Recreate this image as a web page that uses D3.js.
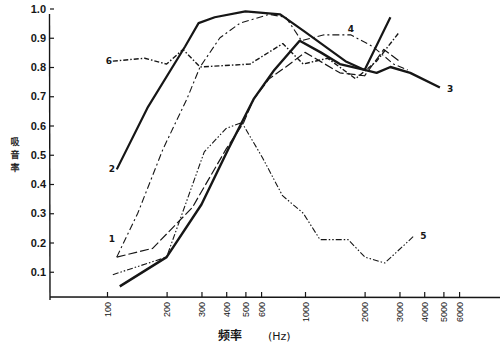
<!DOCTYPE html>
<html>
<head>
<meta charset="utf-8">
<script src="https://cdn.jsdelivr.net/npm/d3@7"></script>
<style>
  body { margin: 0; background: #fff; }
  svg { display: block; font-family: "DejaVu Sans", sans-serif; }
</style>
</head>
<body>
<svg id="chart"></svg>
<script>
// frequency ticks (Hz) and absorption ticks
var freqTicks = [100, 200, 300, 400, 500, 600, 1000, 2000, 3000, 4000, 5000, 6000];
var coefTicks = [0.1, 0.2, 0.3, 0.4, 0.5, 0.6, 0.7, 0.8, 0.9, 1.0];

// curves, [frequency, coefficient]
var curve1 = [[112, 0.15], [170, 0.18], [270, 0.32], [400, 0.52], [490, 0.61], [550, 0.69], [660, 0.76], [800, 0.80], [1000, 0.85], [1500, 0.78], [2000, 0.77], [2500, 0.86], [3000, 0.82]];
var curve2 = [[112, 0.45], [160, 0.66], [248, 0.87], [290, 0.95], [350, 0.97], [500, 0.99], [750, 0.98], [1000, 0.92], [1600, 0.82], [2000, 0.79], [2700, 0.97]];
var curve3 = [[116, 0.05], [200, 0.15], [300, 0.33], [410, 0.52], [550, 0.69], [700, 0.79], [940, 0.89], [1200, 0.85], [1500, 0.81], [2000, 0.79], [2300, 0.78], [2700, 0.80], [3400, 0.78], [4800, 0.73]];
var curve4 = [[112, 0.15], [143, 0.30], [192, 0.52], [253, 0.69], [295, 0.80], [372, 0.90], [470, 0.95], [660, 0.98], [800, 0.97], [960, 0.89], [1250, 0.91], [1700, 0.91], [2200, 0.87], [2800, 0.81], [3300, 0.79]];
var curve5 = [[107, 0.09], [200, 0.15], [310, 0.51], [400, 0.59], [480, 0.61], [610, 0.49], [770, 0.36], [980, 0.30], [1190, 0.21], [1650, 0.21], [2010, 0.15], [2530, 0.13], [3520, 0.22]];
var curve6 = [[107, 0.82], [155, 0.83], [200, 0.81], [242, 0.86], [295, 0.80], [527, 0.81], [772, 0.88], [980, 0.81], [1300, 0.83], [1800, 0.76], [2300, 0.82], [3000, 0.92]];

var curveNames = ["1", "2", "3", "4", "5", "6"];

function drawChart() {
  var width = 500;
  var height = 343;

  var svg = d3.select("#chart")
    .attr("width", width)
    .attr("height", height);

  // log frequency axis, linear coefficient axis
  var x = d3.scaleLog().domain([100, 1000]).range([107, 305]);
  var y = d3.scaleLinear().domain([0, 1]).range([301, 8.5]);

  var ink = "#161616";

  // x axis
  var xAxis = svg.append("g")
    .attr("transform", "translate(0,297)")
    .call(d3.axisBottom(x).tickValues(freqTicks).tickFormat(d3.format("d")).tickSize(-5).tickPadding(4));
  xAxis.select(".domain").remove();
  xAxis.selectAll(".tick line").attr("stroke", ink).attr("stroke-width", 1.2);
  xAxis.selectAll(".tick text")
    .attr("transform", "rotate(-90)")
    .attr("x", -5)
    .attr("y", 0)
    .attr("dy", "0.35em")
    .attr("text-anchor", "end")
    .attr("fill", ink)
    .style("font-size", "9px");
  svg.append("line")
    .attr("x1", 50).attr("x2", 500)
    .attr("y1", 297).attr("y2", 297.5)
    .attr("stroke", ink).attr("stroke-width", 1.4);

  // y axis
  var yAxis = svg.append("g")
    .attr("transform", "translate(50,0)")
    .call(d3.axisLeft(y).tickValues(coefTicks).tickFormat(d3.format(".1f")).tickSize(-4).tickPadding(4));
  yAxis.select(".domain").remove();
  yAxis.selectAll(".tick line").attr("stroke", ink).attr("stroke-width", 1.2);
  yAxis.selectAll(".tick text")
    .attr("fill", ink)
    .style("font-size", "11px")
    .style("font-weight", "bold");
  svg.append("line")
    .attr("x1", 49.5).attr("x2", 50)
    .attr("y1", 14).attr("y2", 300)
    .attr("stroke", ink).attr("stroke-width", 1.4);

  // axis titles
  svg.append("text")
    .attr("x", 218).attr("y", 340)
    .attr("fill", ink)
    .style("font-family", "'Noto Sans CJK SC'")
    .style("font-size", "12px")
    .style("font-weight", "bold")
    .text("频率");
  svg.append("text")
    .attr("x", 268).attr("y", 340)
    .attr("fill", ink)
    .style("font-size", "11px")
    .text("(Hz)");

  // vertical title, one character per line
  var yChars = ["吸", "音", "率"];
  svg.selectAll("text.ytitle")
    .data(yChars)
    .enter()
    .append("text")
    .attr("class", "ytitle")
    .attr("x", 15)
    .attr("y", function(d, i) { return 145 + i * 13; })
    .attr("text-anchor", "middle")
    .attr("fill", ink)
    .attr("stroke", ink)
    .attr("stroke-width", 0.3)
    .style("font-family", "'Noto Sans CJK SC'")
    .style("font-size", "9px")
    .text(function(d) { return d; });

  // line styles for each curve
  var curves = [curve1, curve2, curve3, curve4, curve5, curve6];
  var styles = [
    { w: 1.2, dash: "9,3" },
    { w: 2.2, dash: null },
    { w: 2.4, dash: null },
    { w: 1.1, dash: "7,3,2,3" },
    { w: 1.1, dash: "6,2,1.5,2,1.5,2" },
    { w: 1.4, dash: "5,2,1.5,2" }
  ];

  var line = d3.line()
    .x(function(d) { return x(d[0]); })
    .y(function(d) { return y(d[1]); });

  svg.selectAll("path.curve")
    .data(curves)
    .enter()
    .append("path")
    .attr("class", "curve")
    .attr("d", line)
    .attr("fill", "none")
    .attr("stroke", ink)
    .attr("stroke-width", function(d, i) { return styles[i].w; })
    .attr("stroke-dasharray", function(d, i) { return styles[i].dash; })
    .attr("stroke-linejoin", "round");

  // curve number labels, beside each curve's start or end
  var labelAt = [
    { p: curve1[0], dx: -8, dy: -15 },
    { p: curve2[0], dx: -8, dy: 3 },
    { p: curve3[curve3.length - 1], dx: 7, dy: 5 },
    { p: curve4[11], dx: -3, dy: -3 },
    { p: curve5[curve5.length - 1], dx: 7, dy: 2 },
    { p: curve6[0], dx: -7, dy: 3 }
  ];
  svg.selectAll("text.curve-label")
    .data(labelAt)
    .enter()
    .append("text")
    .attr("class", "curve-label")
    .attr("x", function(d) { return x(d.p[0]) + d.dx; })
    .attr("y", function(d) { return y(d.p[1]) + d.dy; })
    .attr("fill", ink)
    .style("font-size", "9px")
    .style("font-weight", "bold")
    .text(function(d, i) { return curveNames[i]; });
}

drawChart();
</script>
</body>
</html>
